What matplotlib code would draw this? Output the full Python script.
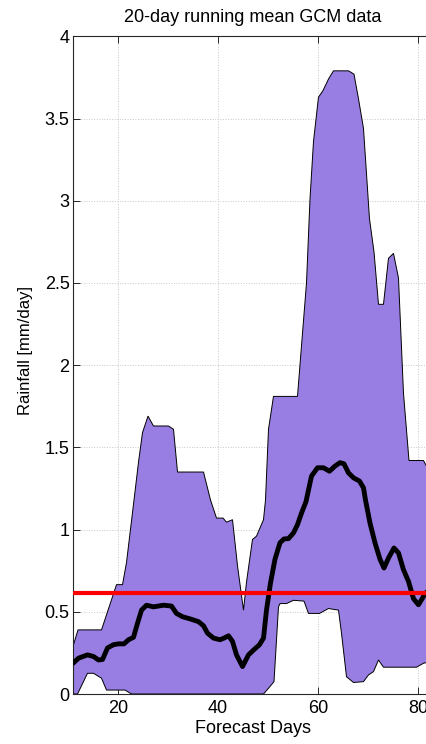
import numpy as np
import matplotlib.pyplot as plt

plt.rcParams['font.family'] = ['Liberation Sans', 'DejaVu Sans']

# ---- data ----
upper_days = [11, 12, 16.7, 19.7, 20.9, 21.7, 23.2, 24.1, 24.9, 26.0,
              27.1, 30.1, 31.1, 31.9, 37.1, 38.5, 39.7, 41.0, 41.7, 42.9,
              43.9, 45.1, 45.7, 46.9, 47.7, 49.1, 49.5, 50.1, 51.1, 55.9,
              57.7, 58.4, 59.1, 60.1, 61.0, 62.1, 63.1, 66.1, 67.2, 68.1,
              69.1, 70.3, 71.2, 72.1, 73.1, 74.1, 75.1, 76.1, 77.1, 78.2,
              81.1, 82, 83]
upper_vals = [0.29, 0.39, 0.39, 0.665, 0.665, 0.80, 1.18, 1.41, 1.59, 1.69,
              1.63, 1.63, 1.61, 1.35, 1.35, 1.18, 1.07, 1.07, 1.045, 1.06,
              0.78, 0.51, 0.68, 0.94, 0.96, 1.06, 1.18, 1.61, 1.81, 1.81,
              2.50, 3.01, 3.36, 3.63, 3.67, 3.74, 3.79, 3.79, 3.77, 3.62,
              3.44, 2.89, 2.69, 2.37, 2.37, 2.65, 2.68, 2.53, 1.83, 1.42,
              1.42, 1.37, 1.30]

lower_days = [11, 11.9, 13.9, 15.1, 16.7, 17.7, 21.4, 22.7, 49.1, 50.1,
              51.2, 52.1, 52.4, 53.7, 55.1, 57.2, 58.1, 60.3, 62.1, 64.1,
              64.7, 65.7, 67.1, 69.1, 70.1, 71.1, 72.1, 73.1, 79.7, 81.1,
              83]
lower_vals = [0.0, 0.0, 0.126, 0.126, 0.096, 0.024, 0.024, 0.0, 0.0, 0.035,
              0.075, 0.53, 0.55, 0.55, 0.57, 0.565, 0.49, 0.49, 0.52, 0.51,
              0.37, 0.105, 0.07, 0.075, 0.116, 0.136, 0.207, 0.163, 0.163, 0.187,
              0.20]

mean_days = [11, 12.1, 13.9, 15.1, 16.1, 16.9, 17.9, 19.1, 20.1, 21.2,
             22.1, 23.1, 23.9, 24.7, 25.7, 27.1, 28.1, 29.1, 30.7, 31.7,
             32.9, 34.4, 36.1, 37.1, 37.9, 39.1, 40.4, 41.2, 42.1, 42.9,
             43.7, 44.9, 46.1, 47.2, 48.3, 49.1, 49.7, 50.5, 51.4, 52.4,
             53.2, 54.1, 55.1, 55.9, 56.7, 57.6, 58.7, 59.9, 61.1, 62.3,
             63.4, 64.4, 65.2, 66.1, 67.1, 68.3, 69.1, 69.5, 70.4, 71.4,
             72.4, 73.2, 74.1, 75.2, 76.1, 77.1, 78.1, 79.1, 80.1, 81.1,
             82, 83]
mean_vals = [0.187, 0.218, 0.238, 0.228, 0.207, 0.21, 0.28, 0.30, 0.305, 0.305,
             0.33, 0.345, 0.43, 0.51, 0.54, 0.53, 0.535, 0.54, 0.535, 0.49,
             0.47, 0.457, 0.44, 0.415, 0.37, 0.34, 0.33, 0.34, 0.354, 0.32,
             0.238, 0.167, 0.238, 0.27, 0.30, 0.34, 0.51, 0.675, 0.82, 0.92,
             0.943, 0.945, 0.98, 1.03, 1.10, 1.17, 1.325, 1.376, 1.376, 1.355,
             1.386, 1.407, 1.40, 1.345, 1.315, 1.295, 1.254, 1.18, 1.04, 0.92,
             0.82, 0.766, 0.827, 0.888, 0.858, 0.756, 0.685, 0.58, 0.543, 0.593,
             0.63, 0.66]

threshold = 0.612

x_ticks = [20, 40, 60, 80]
y_ticks = [0, 0.5, 1, 1.5, 2, 2.5, 3, 3.5, 4]
y_tick_labels = ['0', '0.5', '1', '1.5', '2', '2.5', '3', '3.5', '4']

# ---- plot ----
fig = plt.figure(figsize=(4.27, 7.44), dpi=100)
# axes run a little past the right edge of the picture (right spine cropped)
ax = fig.add_axes([0.171, 0.0672, 0.843, 0.884])

poly_x = np.concatenate([upper_days, lower_days[::-1]])
poly_y = np.concatenate([upper_vals, lower_vals[::-1]])
ax.fill(poly_x, poly_y, facecolor='#987ee2', edgecolor='black', linewidth=0.7, zorder=2)

ax.plot(mean_days, mean_vals, color='black', linewidth=3.5,
        solid_joinstyle='round', solid_capstyle='round', zorder=3)
ax.axhline(threshold, color='#ff0000', linewidth=3, zorder=4)

ax.set_xlim(11, 83)
ax.set_ylim(0, 4)
ax.set_xticks(x_ticks)
ax.set_yticks(y_ticks)
ax.set_yticklabels(y_tick_labels)

ax.grid(True, linestyle=':', color='#c8c8c8', linewidth=0.7, zorder=0)
ax.set_axisbelow(True)
ax.tick_params(direction='in', top=True, right=True, length=5, width=0.7,
               labelsize=13, colors='#262626', labelcolor='black')
ax.tick_params(axis='x', pad=4.5)
ax.tick_params(axis='y', pad=2.5)
for sp in ax.spines.values():
    sp.set_color('#262626')
    sp.set_linewidth(0.8)

ax.set_title('20-day running mean GCM data', fontsize=13, pad=10)
ax.set_xlabel('Forecast Days', fontsize=13, labelpad=2)
ax.set_ylabel('Rainfall [mm/day]', fontsize=12)
ax.yaxis.set_label_coords(-0.111, 0.523)

plt.savefig('out.png', dpi=100)
